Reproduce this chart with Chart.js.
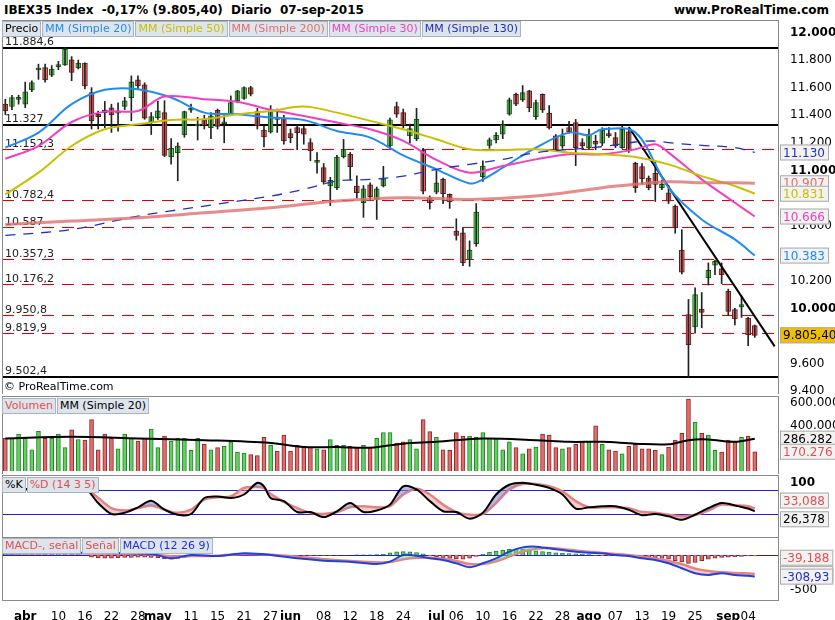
<!DOCTYPE html>
<html><head><meta charset="utf-8">
<script src="https://cdn.jsdelivr.net/npm/chart.js@4.4.1/dist/chart.umd.min.js"></script>
<style>
body{margin:0;width:835px;height:620px;background:#fff;position:relative;overflow:hidden;font-family:"DejaVu Sans",sans-serif;}
canvas{position:absolute;left:0;}
.hdr{position:absolute;top:3px;font-size:12px;font-weight:bold;color:#000;}
.leg{position:absolute;display:flex;font-size:11px;}
.leg span{background:#dde4ec;border:1px solid #a8b4c0;padding:0 2px;margin-right:1px;line-height:14px;}
.copy{position:absolute;left:4px;top:380px;font-size:11px;}
</style></head><body>
<div class="hdr" style="left:4px">IBEX35 Index&nbsp; -0,17% (9.805,40)&nbsp; Diario&nbsp; 07-sep-2015</div>
<div class="hdr" style="right:6px">www.ProRealTime.com</div>
<canvas id="c1" width="835" height="374" style="top:20px"></canvas>
<canvas id="c2" width="835" height="78" style="top:396px"></canvas>
<canvas id="c3" width="835" height="62" style="top:475px"></canvas>
<canvas id="c4" width="835" height="83" style="top:537px"></canvas>
<div class="leg" style="left:2px;top:21px"><span>Precio</span><span style="color:#1e8cf0">MM (Simple 20)</span><span style="color:#c8c000">MM (Simple 50)</span><span style="color:#e07070">MM (Simple 200)</span><span style="color:#f040c0">MM (Simple 30)</span><span style="color:#2030c0">MM (Simple 130)</span></div>
<div class="copy">© ProRealTime.com</div>
<div class="leg" style="left:2px;top:398px"><span style="color:#e05050">Volumen</span><span>MM (Simple 20)</span></div>
<div class="leg" style="left:2px;top:477px"><span>%K</span><span style="color:#e05050">%D (14 3 5)</span></div>
<div class="leg" style="left:2px;top:538px"><span style="color:#e05050">MACD-, señal</span><span style="color:#e05050">Señal</span><span style="color:#2030d0">MACD (12 26 9)</span></div>
<script>
const dates=["03-27","03-30","03-31","04-01","04-02","04-07","04-08","04-09","04-10","04-13","04-14","04-15","04-16","04-17","04-20","04-21","04-22","04-23","04-24","04-27","04-28","04-29","04-30",
"05-04","05-05","05-06","05-07","05-08","05-11","05-12","05-13","05-14","05-15","05-18","05-19","05-20","05-21","05-22","05-25","05-26","05-27","05-28","05-29",
"06-01","06-02","06-03","06-04","06-05","06-08","06-09","06-10","06-11","06-12","06-15","06-16","06-17","06-18","06-19","06-22","06-23","06-24","06-25","06-26","06-29","06-30",
"07-01","07-02","07-03","07-06","07-07","07-08","07-09","07-10","07-13","07-14","07-15","07-16","07-17","07-20","07-21","07-22","07-23","07-24","07-27","07-28","07-29","07-30","07-31",
"08-03","08-04","08-05","08-06","08-07","08-10","08-11","08-12","08-13","08-14","08-17","08-18","08-19","08-20","08-21","08-24","08-25","08-26","08-27","08-28","08-31",
"09-01","09-02","09-03","09-04","09-07","x1","x2","x3"];
const xTickText={"04-01":"abr","04-10":"10","04-16":"16","04-22":"22","04-28":"28","05-04":"may","05-11":"11","05-15":"15","05-21":"21","05-27":"27","06-01":"jun","06-08":"08","06-12":"12","06-18":"18","06-24":"24","07-01":"jul","07-06":"06","07-10":"10","07-16":"16","07-22":"22","07-28":"28","08-03":"ago","08-07":"07","08-13":"13","08-19":"19","08-25":"25","09-01":"sep","09-04":"04"};
const openP=[11480,11463,11515,11480,11584,11728,11746,11690,11752,11765,11802,11743,11777,11564,11407,11438,11453,11415,11463,11528,11656,11620,11351,11383,11419,11100,11129,11257,11436,11322,11366,11310,11436,11338,11412,11504,11521,11601,11426,11293,11279,11380,11376,11267,11310,11303,11201,11058,11020,10887,10875,11100,11117,10887,10766,10896,10790,10887,11177,11463,11419,11250,11230,11148,10802,10843,10935,10826,10560,10548,10354,10470,10955,11182,11221,11262,11407,11552,11511,11576,11390,11552,11414,11250,11177,11310,11347,11201,11165,11210,11197,11267,11238,11165,11279,11051,11027,10945,10979,10875,10838,10742,10422,9955,9866,9996,10221,10313,10287,10124,9991,10011,9931,9875];
const closeP=[11431,11528,11525,11569,11637,11740,11656,11734,11762,11879,11710,11777,11613,11359,11390,11419,11402,11422,11504,11642,11613,11378,11390,11431,11109,11160,11177,11426,11443,11330,11327,11395,11318,11345,11492,11576,11601,11552,11322,11243,11431,11370,11214,11238,11274,11262,11141,11064,10916,10928,11097,11153,11027,10838,10867,10809,10867,10940,11366,11407,11327,11303,11371,10850,10766,10911,10831,10771,10529,10330,10422,10698,11032,11221,11255,11332,11511,11480,11564,11455,11492,11439,11308,11148,11250,11279,11165,11177,11262,11190,11293,11250,11177,11298,11141,10875,10940,10875,10899,10899,10778,10584,10262,9737,10100,9972,10277,10342,10245,9979,9924,10028,9810,9805];
const highP=[11515,11545,11545,11640,11650,11770,11770,11760,11790,11891,11825,11800,11780,11600,11430,11500,11480,11490,11530,11685,11685,11635,11420,11500,11505,11230,11200,11430,11480,11385,11400,11420,11445,11405,11540,11580,11605,11610,11450,11320,11470,11445,11400,11300,11330,11320,11230,11130,11050,10950,11110,11225,11130,10960,10890,10910,10880,11030,11380,11495,11445,11335,11450,11160,10815,11000,10945,10830,10650,10580,10490,10760,11070,11235,11275,11360,11525,11560,11615,11580,11510,11555,11470,11260,11300,11355,11370,11230,11300,11255,11310,11310,11275,11320,11300,11060,11050,10960,11060,10930,10890,10750,10570,10065,10150,10115,10330,10350,10330,10140,10000,10090,9935,9880];
const lowP=[11405,11440,11480,11455,11570,11660,11640,11680,11730,11760,11650,11735,11590,11300,11300,11310,11275,11285,11440,11360,11590,11370,11260,11370,11100,11045,10925,11240,11420,11220,11300,11230,11300,11200,11400,11490,11515,11540,11300,11170,11270,11275,11190,11200,11150,11190,11070,10980,10900,10745,10860,11090,10930,10800,10660,10780,10645,10880,11160,11385,11310,11200,11215,10830,10720,10830,10760,10725,10495,10310,10305,10450,10920,11160,11200,11230,11400,11470,11500,11425,11370,11420,11300,11140,11160,11270,11035,11150,11155,11150,11180,11240,11165,11160,11130,10840,10900,10860,10775,10860,10760,10545,10250,9503,9820,9860,10170,10245,10180,9950,9880,9935,9730,9790];
const sma20=[[0,11165],[5,11274],[10,11480],[15,11584],[20,11589],[25,11528],[30,11419],[35,11407],[40,11383],[45,11366],[50,11286],[55,11238],[60,11109],[65,11008],[70,10906],[72,10935],[75,11020],[80,11165],[85,11274],[88,11255],[90,11298],[95,11274],[100,10875],[105,10645],[110,10500],[113,10383]];
const sma30=[[0,11085],[5,11177],[10,11351],[15,11426],[20,11431],[24,11535],[30,11516],[35,11497],[40,11439],[45,11395],[50,11347],[55,11298],[60,11214],[65,11076],[70,10984],[75,11032],[80,11080],[85,11117],[90,11117],[95,11153],[98,11189],[100,11129],[105,10935],[110,10766],[113,10666]];
const sma50=[[0,10826],[5,10984],[10,11177],[15,11298],[20,11334],[25,11366],[30,11371],[35,11407],[40,11431],[45,11463],[50,11419],[55,11359],[60,11298],[65,11226],[70,11153],[75,11148],[80,11153],[85,11129],[90,11117],[95,11097],[100,11044],[105,10959],[110,10887],[113,10831]];
const sma200=[[0,10608],[10,10633],[20,10657],[30,10693],[40,10730],[50,10778],[60,10802],[70,10790],[80,10814],[90,10875],[95,10899],[100,10918],[105,10911],[110,10911],[113,10907]];
const sma130=[[0,10529],[10,10572],[20,10669],[30,10742],[40,10814],[45,10863],[50,10923],[55,10935],[60,10959],[65,11008],[70,11044],[75,11080],[80,11129],[90,11172],[95,11206],[98,11213],[100,11201],[105,11182],[110,11165],[113,11130]];
const trendLine=[[94,11315],[116,9725]];
const blackLevels=[11884.6,11327,9502.4];
const redLevels=[11152.3,10782.4,10587,10357.3,10176.2,9950.8,9819.9];
const levelText={"11884.6":"11.884,6","11327":"11.327","9502.4":"9.502,4","11152.3":"11.152,3","10782.4":"10.782,4","10587":"10.587","10357.3":"10.357,3","10176.2":"10.176,2","9950.8":"9.950,8","9819.9":"9.819,9"};
const priceTicks=[9400,9600,10000,10200,10600,11000,11200,11400,11600,11800,12000];
const priceTags=[[11130,"11.130","#2030c0"],[10907,"10.907","#e07070"],[10831,"10.831","#c8c000"],[10666,"10.666","#f040c0"],[10383,"10.383","#1e8cf0"],[9805.4,"9.805,40","#000","#f0c000"]];
const volume=[288,288,327,288,188,351,288,288,327,206,364,279,273,455,188,327,288,197,327,288,264,288,370,206,309,264,288,288,182,288,236,188,206,218,258,167,158,145,136,297,227,176,318,176,227,212,212,197,188,279,227,227,218,206,227,212,288,339,339,248,258,279,197,455,348,297,188,182,339,309,309,297,339,288,288,188,258,206,152,197,212,327,318,206,197,206,236,258,258,400,236,188,176,152,218,236,197,197,182,145,212,273,333,636,433,333,318,182,167,273,258,297,309,170];
const volMA=[[0,288],[10,303],[20,288],[30,273],[40,248],[45,212],[50,212],[55,206],[60,242],[65,258],[72,288],[80,273],[85,258],[90,258],[95,242],[100,236],[103,273],[106,279],[110,258],[113,286]];
const volTicks=[400,600];
const volTags=[[286,"286.282","#000"],[170,"170.276","#e05050"]];
const stochK=[[0,82],[10,85],[12,86],[14,47],[16,19],[18,22],[20,36],[22,53],[24,30],[26,17],[28,19],[30,60],[32,64],[34,60],[36,69],[38,99],[39,90],[40,60],[42,52],[44,24],[46,24],[48,11],[50,26],[52,47],[54,24],[56,28],[58,43],[60,90],[62,82],[64,52],[66,26],[68,24],[70,7],[72,22],[74,69],[76,94],[78,99],[80,94],[82,86],[84,69],[86,33],[88,36],[90,39],[92,39],[94,30],[96,16],[98,19],[100,13],[102,4],[104,17],[106,34],[108,47],[110,41],[112,33],[113,26]];
const stochD=[[0,80],[10,84],[12,86],[14,60],[16,34],[18,28],[20,34],[22,41],[24,30],[26,22],[28,30],[30,56],[32,62],[34,64],[36,86],[38,88],[39,85],[40,70],[42,50],[44,34],[46,22],[48,19],[50,24],[52,36],[54,39],[56,36],[58,39],[60,69],[62,84],[64,69],[66,43],[68,24],[70,17],[72,19],[74,47],[76,82],[78,96],[80,96],[82,90],[84,77],[86,52],[88,36],[90,36],[92,36],[94,34],[96,24],[98,22],[100,17],[102,13],[104,17],[106,28],[108,43],[110,41],[112,39],[113,33]];
const stochTags=[[33,"33,088","#e05050",null,-8],[26,"26,378","#000",null,8]];
const macd=[[0,24],[8,33],[22,15],[25,-48],[28,0],[32,-15],[36,24],[40,0],[44,-48],[48,-81],[52,-95],[56,-128],[58,-95],[60,0],[62,-10],[64,-48],[66,-71],[68,-119],[70,-176],[72,-119],[74,-48],[76,48],[78,109],[80,119],[82,95],[84,71],[86,48],[88,33],[90,24],[92,0],[94,-15],[96,-48],[98,-71],[100,-119],[102,-190],[104,-261],[106,-285],[108,-261],[110,-285],[112,-297],[113,-309]];
const signal=[[0,20],[8,25],[22,10],[25,-20],[28,-15],[32,-10],[36,15],[40,5],[44,-25],[48,-60],[52,-85],[56,-105],[58,-100],[60,-60],[62,-40],[64,-40],[66,-55],[68,-85],[70,-130],[72,-130],[74,-90],[76,-20],[78,50],[80,90],[82,100],[84,85],[86,65],[88,45],[90,30],[92,15],[94,0],[96,-25],[98,-50],[100,-85],[102,-130],[104,-195],[106,-230],[108,-245],[110,-258],[112,-265],[113,-270]];
const macdHist=[15,18,20,20,18,18,15,18,20,15,12,10,0,-30,-40,-45,-45,-40,-35,-35,-30,-30,-35,-40,-55,-60,-50,-35,-20,-15,-10,-10,-5,-5,-5,0,5,5,5,5,3,0,-5,-5,-5,-8,-8,-5,-5,-5,-3,0,0,3,3,3,5,8,30,45,48,45,35,15,-10,-25,-40,-50,-55,-60,-45,-20,10,40,55,70,80,85,80,70,60,50,40,30,25,20,15,10,5,-5,-10,-12,-15,-15,-20,-25,-30,-35,-40,-50,-60,-80,-100,-120,-105,-80,-60,-45,-35,-30,-25,-20,-15,-15];
const macdTicks=[-500];
const macdTags=[[-39,"-39,188","#e05050"],[-270,"-269,74","#e05050"],[-309,"-308,93","#2030d0"]];

const F='"DejaVu Sans", sans-serif';
const pts=a=>a.map(p=>({x:dates[p[0]],y:p[1]}));
const up=closeP.map((c,i)=>c>=openP[i]);
const GREEN='#5fd35f',RED='#e36b6b';

function tagPlugin(tags){return {id:'tags',afterDraw(ch){const c=ch.ctx,y=ch.scales.y;c.save();c.font='12px '+F;c.textBaseline='middle';
 tags.forEach(t=>{const py=y.getPixelForValue(t[0])+(t[4]||0);const x0=ch.chartArea.right+2;const w=c.measureText(t[1]).width+6;
 c.fillStyle=t[3]||'#f2f2f2';c.fillRect(x0,py-8,w,16);c.strokeStyle='#aaa';c.strokeRect(x0+.5,py-7.5,w,15);
 c.fillStyle=t[2];c.fillText(t[1],x0+3,py+1);});c.restore();}};}
const frame={id:'frame',afterDraw(ch){const a=ch.chartArea,c=ch.ctx;c.save();c.strokeStyle='#8a8a8a';c.lineWidth=1;c.strokeRect(a.left+.5,a.top+.5,a.right-a.left,a.bottom-a.top);c.restore();}};
function xScale(show){return {type:'category',offset:true,grid:{display:false},border:{display:false},display:show,
 ticks:{autoSkip:false,maxRotation:0,padding:2,color:'#000',callback:(v,i)=>xTickText[dates[i]]||'',
 font:c=>({family:F,size:12,weight:(c.tick&&/^[a-z]/.test(c.tick.label))?'bold':'normal'})},
 afterFit(s){s.height=show?20:0;s.paddingLeft=0;s.paddingRight=0;}};}
function yScale(min,max,ticks,fmt,boldF){return {position:'right',min,max,grid:{display:false},border:{color:'#8a8a8a'},
 afterBuildTicks(s){s.ticks=ticks.map(v=>({value:v}));},
 ticks:{color:'#000',padding:4,callback:fmt,font:c=>({family:F,size:12,weight:(boldF&&c.tick&&boldF(c.tick.value))?'bold':'normal'})},
 afterFit(s){s.width=57;s.paddingTop=0;s.paddingBottom=0;}};}
const base={responsive:false,animation:false,plugins:{legend:{display:false},tooltip:{enabled:false}},layout:{padding:{left:2,top:0,bottom:0,right:0}}};
const fmtK=v=>v.toLocaleString('de-DE');

const levels={id:'levels',beforeDatasetsDraw(ch){const c=ch.ctx,y=ch.scales.y,a=ch.chartArea;c.save();c.font='11px '+F;
 redLevels.forEach(v=>{const py=Math.round(y.getPixelForValue(v))+.5;c.strokeStyle='#e00000';c.lineWidth=1;c.setLineDash([12,8]);c.beginPath();c.moveTo(a.left,py);c.lineTo(a.right,py);c.stroke();c.fillStyle='#222';c.fillText(levelText[v],a.left+3,py-3);});
 c.setLineDash([]);blackLevels.forEach(v=>{const py=Math.round(y.getPixelForValue(v));c.strokeStyle='#000';c.lineWidth=2;c.beginPath();c.moveTo(a.left,py);c.lineTo(a.right,py);c.stroke();c.fillStyle='#222';c.fillText(levelText[v],a.left+3,py-3);});
 c.restore();}};
const lineDs=(d,col,w,dash)=>({type:'line',data:pts(d),borderColor:col,borderWidth:w,pointRadius:0,tension:0.35,borderDash:dash||[],spanGaps:true});
new Chart(document.getElementById('c1'),{data:{labels:dates,datasets:[
 lineDs(sma200,'rgba(225,110,110,0.8)',3),
 lineDs(sma130,'#2030c0',1.3,[10,8]),
 lineDs(sma50,'#c8c000',2),
 lineDs(sma30,'#f040c0',2),
 lineDs(sma20,'#1e8cf0',2),
 {type:'line',data:pts(trendLine),borderColor:'#000',borderWidth:2,pointRadius:0,tension:0},
 {type:'bar',data:lowP.map((l,i)=>[l,highP[i]]),backgroundColor:'#222',barThickness:1,grouped:false},
 {type:'bar',data:openP.map((o,i)=>[o,closeP[i]]),backgroundColor:up.map(u=>u?GREEN:RED),borderColor:up.map(u=>u?'#1a5a1a':'#6a1a1a'),borderWidth:1,borderSkipped:false,barThickness:5,grouped:false,minBarLength:2},
]},options:{...base,scales:{x:xScale(false),y:yScale(9380,12090,priceTicks,fmtK,v=>v%1000===0)}},plugins:[levels,frame,tagPlugin(priceTags)]});

new Chart(document.getElementById('c2'),{data:{labels:dates,datasets:[
 {type:'line',data:pts(volMA),borderColor:'#000',borderWidth:2,pointRadius:0,tension:0.35},
 {type:'bar',data:volume,backgroundColor:up.map(u=>u?GREEN:RED),borderColor:up.map(u=>u?'#2a7a2a':'#8a2a2a'),borderWidth:1,barThickness:4},
]},options:{...base,scales:{x:xScale(false),y:yScale(-27,664,volTicks,v=>(v*1000).toLocaleString('de-DE'))}},plugins:[frame,tagPlugin(volTags)]});

const hlines=(vals,col)=>({id:'hl',beforeDatasetsDraw(ch){const c=ch.ctx,y=ch.scales.y,a=ch.chartArea;c.save();c.strokeStyle=col;c.lineWidth=1;vals.forEach(v=>{const py=Math.round(y.getPixelForValue(v))+.5;c.beginPath();c.moveTo(a.left,py);c.lineTo(a.right,py);c.stroke();});c.restore();}});
new Chart(document.getElementById('c3'),{data:{labels:dates,datasets:[
 {type:'line',data:pts(stochK),borderColor:'#000',borderWidth:2,pointRadius:0,tension:0.3,fill:{target:1,above:'rgba(130,130,200,0.55)',below:'rgba(240,140,140,0.45)'}},
 {type:'line',data:pts(stochD),borderColor:'#e88080',borderWidth:2.5,pointRadius:0,tension:0.3},
]},options:{...base,scales:{x:xScale(false),y:yScale(-40,119,[100],v=>String(v),()=>true)}},plugins:[hlines([80,20],'#2020d0'),frame,tagPlugin(stochTags)]});

new Chart(document.getElementById('c4'),{data:{labels:dates,datasets:[
 {type:'line',data:pts(macd),borderColor:'#2040e0',borderWidth:2,pointRadius:0,tension:0.3,fill:{target:1,above:'rgba(120,220,120,0.5)',below:'rgba(240,140,140,0.45)'}},
 {type:'line',data:pts(signal),borderColor:'#e88080',borderWidth:2.5,pointRadius:0,tension:0.3},
 {type:'bar',data:macdHist,backgroundColor:macdHist.map(v=>v>=0?GREEN:RED),borderColor:macdHist.map(v=>v>=0?'#2a7a2a':'#8a2a2a'),borderWidth:1,barThickness:4},
]},options:{...base,scales:{x:xScale(true),y:yScale(-643,257,macdTicks,v=>String(v))}},plugins:[hlines([0],'#2020d0'),frame,tagPlugin(macdTags)]});
</script></body></html>
